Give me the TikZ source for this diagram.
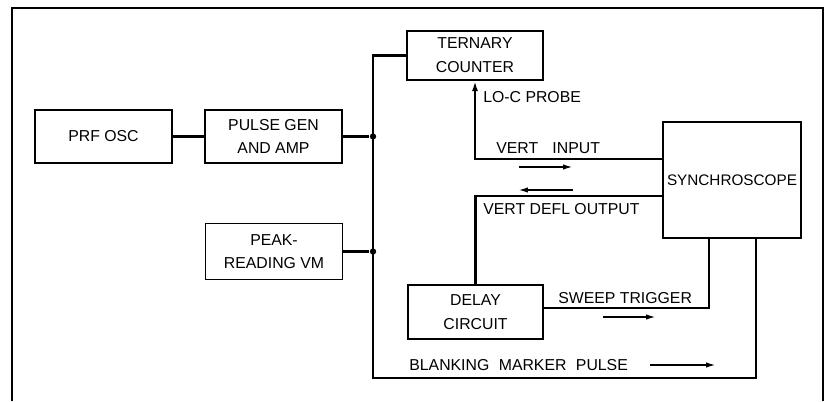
\documentclass[tikz,border=0pt]{standalone}
\usepackage{fontspec}
\setmainfont{Liberation Sans}
\usepackage{tikz}
\usetikzlibrary{arrows.meta,positioning}

\begin{document}
\begin{tikzpicture}[
    blk/.style={draw=black, line width=0.8pt, minimum width=2.74cm, minimum height=1.06cm, align=center, inner sep=1pt, font=\fontsize{9}{13.5}\selectfont},
    wire/.style={line width=1.2pt},
    flow/.style={line width=0.6pt, -{Latex[length=5pt,width=3pt]}},
    lbl/.style={anchor=west, inner sep=0pt, font=\fontsize{9}{10}\selectfont},
    dot/.style={circle, fill=black, minimum size=3.6pt, inner sep=0pt}]
            \useasboundingbox (0,0) rectangle (16.52,8.02);
            \draw[wire] (0.24,0) |- (16.46,7.86) -- (16.46,0);

            \node[blk] (prf) at (2.07,5.29) {PRF OSC};
            \node[blk] (pulse) at (5.47,5.29) {PULSE GEN\\AND AMP};
            \node[blk, minimum height=1.12cm] (peak) at (5.48,2.99) {PEAK-\\READING VM};
            \node[blk, minimum width=2.72cm, minimum height=0.98cm] (ternary) at (9.50,6.91) {TERNARY\\COUNTER};
            \node[blk, minimum width=2.70cm, minimum height=1.08cm] (delay) at (9.51,1.78) {DELAY\\CIRCUIT};
            \node[blk, minimum width=2.76cm, minimum height=2.32cm, font=\fontsize{8.7}{10}\selectfont] (synchro) at (14.64,4.42) {SYNCHROSCOPE};

            \node[dot] (j1) at (7.46,5.29) {};
            \node[dot] (j2) at (7.46,2.99) {};
            \coordinate (busbot) at (7.46,0.46);
            \coordinate (vin) at (13.26,4.84);
            \coordinate (vout) at (13.26,4.10);
            \coordinate (swin) at (14.18,3.26);
            \coordinate (blankin) at (15.12,3.26);

            \draw[wire] (prf) -- (pulse);
            \draw[wire] (pulse) -- (j1);
            \draw[wire] (peak) -- (j2);
            \draw[wire] (ternary.west) -| (busbot) -| (blankin);
            \draw[wire, -{Latex[length=6pt,width=3.5pt]}] (vin) -| (ternary.south);
            \draw[wire] (vout) -| (delay.north);
            \draw[wire] (delay.east |- 0,1.86) -| (swin);

            \node[lbl] (probe) at (9.66,6.08) {LO-C PROBE};
            \node[lbl] (vinput) at (9.92,5.06) {VERT\hspace{0.9em}INPUT};
            \node[lbl] (vdefl) at (9.66,3.84) {VERT DEFL OUTPUT};
            \node[lbl] (sweep) at (11.16,2.06) {SWEEP TRIGGER};
            \node[lbl] (blank) at (8.18,0.72) {BLANKING\hspace{0.6em}MARKER\hspace{0.6em}PULSE};

            \coordinate (a1) at (10.38,4.68);
            \coordinate (a2) at (11.44,4.68);
            \coordinate (b1) at (11.46,4.22);
            \coordinate (b2) at (10.38,4.22);
            \coordinate (c1) at (12.06,1.68);
            \coordinate (c2) at (13.10,1.68);
            \coordinate (d1) at (13.00,0.72);
            \coordinate (d2) at (14.30,0.72);
            \draw[flow] (a1) -- (a2);
            \draw[flow] (b1) -- (b2);
            \draw[flow] (c1) -- (c2);
            \draw[flow] (d1) -- (d2);
        \end{tikzpicture}
\end{document}
